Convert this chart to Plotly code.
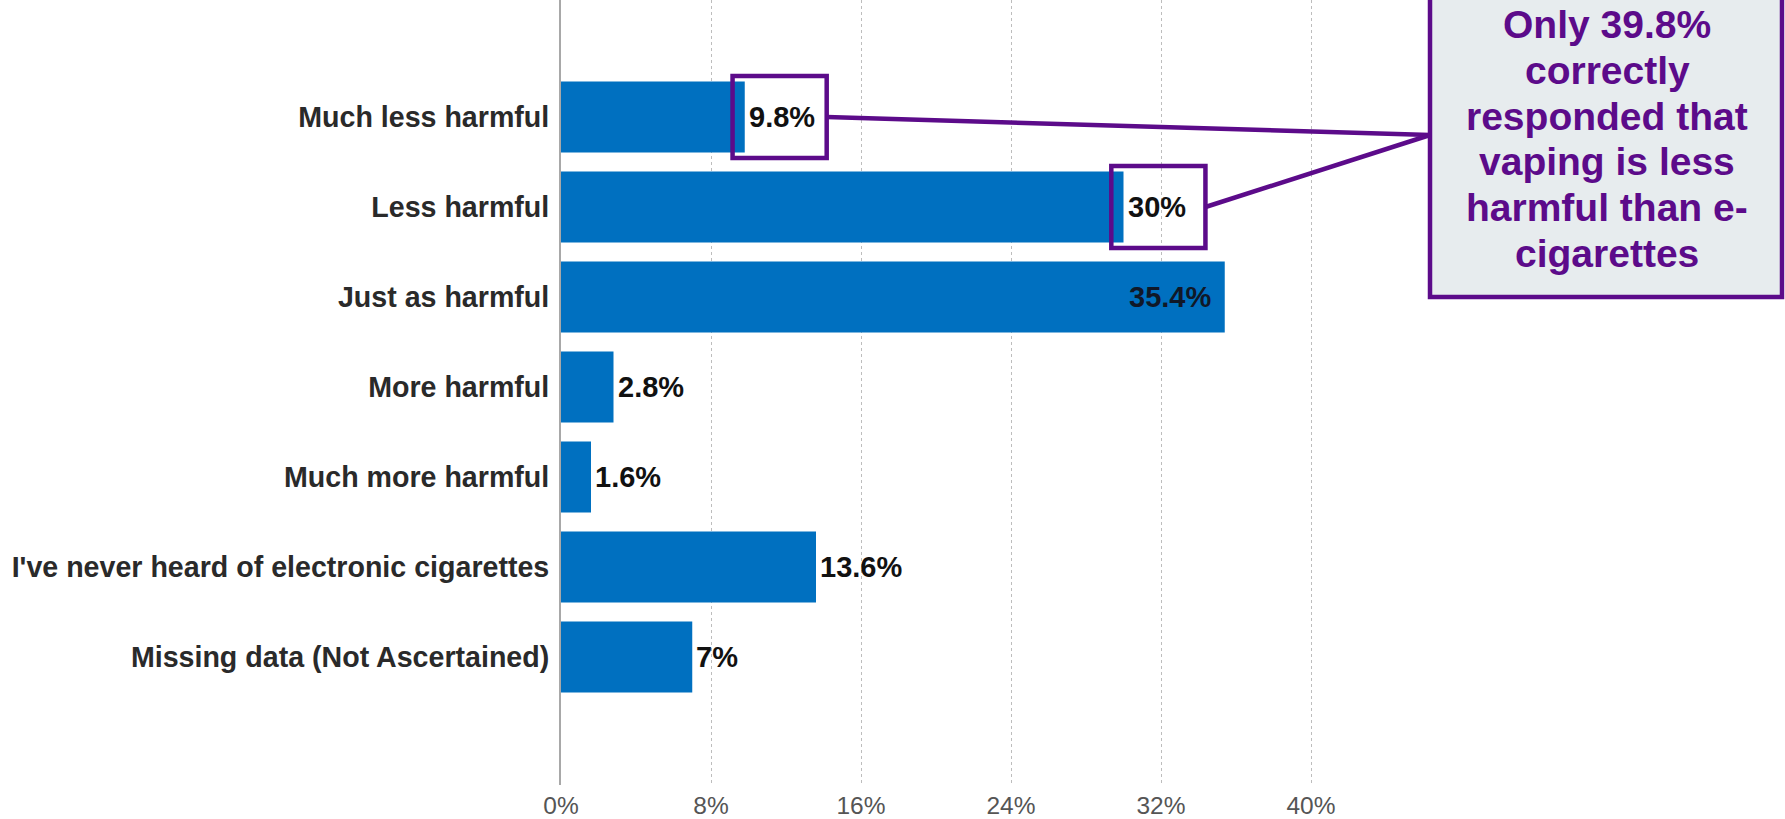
import plotly.graph_objects as go

# Survey responses: perceived harm of vaping compared with e-cigarettes
categories = [
    "Much less harmful",
    "Less harmful",
    "Just as harmful",
    "More harmful",
    "Much more harmful",
    "I've never heard of electronic cigarettes",
    "Missing data (Not Ascertained)",
]
percentages = [9.8, 30, 35.4, 2.8, 1.6, 13.6, 7]
value_labels = ["9.8%", "30%", "35.4%", "2.8%", "1.6%", "13.6%", "7%"]
label_inside = [False, False, True, False, False, False, False]
x_tick_values = [0, 8, 16, 24, 32, 40]
x_tick_labels = ["0%", "8%", "16%", "24%", "32%", "40%"]
highlighted = [0, 1]  # rows whose labels are boxed and linked to the callout
callout_lines = [
    "Only 39.8%",
    "correctly",
    "responded that",
    "vaping is less",
    "harmful than e-",
    "cigarettes",
]

BAR_BLUE = "#0070C0"
PURPLE = "#5C0B8A"
FONT = "Arial, Liberation Sans, Helvetica, sans-serif"

W, H = 1785, 819
M_L, M_R, M_T, M_B = 561, 24, 0, 34
X_MAX = 64
PLOT_W = W - M_L - M_R
PLOT_H = H - M_T - M_B

rows = list(range(len(categories)))

fig = go.Figure(
    go.Bar(
        x=percentages,
        y=rows,
        orientation="h",
        width=0.79,
        marker=dict(color=BAR_BLUE, line=dict(width=0)),
        hoverinfo="skip",
    )
)

shapes = []
annotations = []

# Value labels next to (or inside) each bar
for i, (v, lab, inside) in enumerate(zip(percentages, value_labels, label_inside)):
    annotations.append(dict(
        xref="x", yref="y", x=v, y=i,
        text=f"<b>{lab}</b>", showarrow=False,
        xanchor="right" if inside else "left", yanchor="middle",
        xshift=-12 if inside else 2,
        font=dict(family=FONT, size=29, color="#101828" if inside else "#111111"),
    ))

# Callout anchor on the left edge of the callout box (data coordinates)
anchor_x = (1430 - M_L) / PLOT_W * X_MAX
anchor_y = 0.2

for i in highlighted:
    v = percentages[i]
    x0, x1 = v - 0.65, v + 4.37
    shapes.append(dict(
        type="rect", xref="x", yref="y",
        x0=x0, x1=x1, y0=i - 0.455, y1=i + 0.455,
        line=dict(color=PURPLE, width=4.5), fillcolor="rgba(0,0,0,0)",
        layer="above",
    ))
    shapes.append(dict(
        type="line", xref="x", yref="y",
        x0=x1, y0=i, x1=anchor_x, y1=anchor_y,
        line=dict(color=PURPLE, width=4.5), layer="above",
    ))

# Callout box (paper coordinates)
def px_to_paper_x(px):
    return (px - M_L) / PLOT_W

def py_to_paper_y(py):
    return (H - M_B - py) / PLOT_H

shapes.append(dict(
    type="rect", xref="paper", yref="paper",
    x0=px_to_paper_x(1430), x1=px_to_paper_x(1782),
    y0=py_to_paper_y(297), y1=py_to_paper_y(-10),
    line=dict(color=PURPLE, width=4.5), fillcolor="#E7ECEE", layer="above",
))

for k, line in enumerate(callout_lines):
    annotations.append(dict(
        xref="paper", yref="paper",
        x=px_to_paper_x(1607), y=py_to_paper_y(25 + 45.6 * k),
        text=f"<b>{line}</b>", showarrow=False,
        xanchor="center", yanchor="middle",
        font=dict(family=FONT, size=39, color=PURPLE),
    ))

fig.update_layout(
    width=W, height=H,
    margin=dict(l=M_L, r=M_R, t=M_T, b=M_B, pad=0),
    paper_bgcolor="white", plot_bgcolor="white",
    showlegend=False,
    shapes=shapes,
    annotations=annotations,
    xaxis=dict(
        range=[0, X_MAX],
        tickvals=x_tick_values, ticktext=x_tick_labels,
        showgrid=True, gridcolor="#bdbdbd", gridwidth=1, griddash="dot",
        zeroline=False, showline=False, ticks="",
        tickfont=dict(family=FONT, size=24.5, color="#555555"),
        ticklabelstandoff=3,
        fixedrange=True,
    ),
    yaxis=dict(
        range=[7.422, -1.3],
        tickvals=rows, ticktext=[f"<b>{c}</b>" for c in categories],
        showgrid=False, zeroline=False,
        showline=True, linecolor="#a8a8a8", linewidth=2,
        ticks="", ticklabelstandoff=4,
        tickfont=dict(family=FONT, size=28.6, color="#2a2a2a"),
        fixedrange=True,
    ),
)

fig.write_html("out.html")
